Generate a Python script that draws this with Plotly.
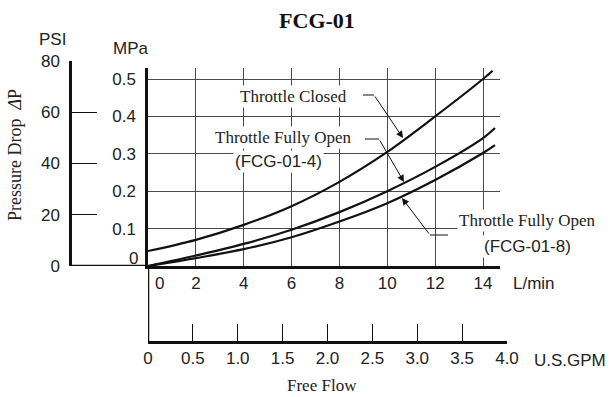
import plotly.graph_objects as go

# flow (L/min) and pressure drop (MPa)
flow_closed = [0, 2, 4, 6, 8, 10, 12, 14, 14.4]
dp_closed = [0.040, 0.070, 0.110, 0.160, 0.225, 0.305, 0.400, 0.500, 0.522]

flow_open = [0, 2, 4, 6, 8, 10, 12, 14, 14.5]
dp_open_4 = [0, 0.028, 0.059, 0.097, 0.144, 0.200, 0.265, 0.342, 0.369]
dp_open_8 = [0, 0.021, 0.045, 0.077, 0.119, 0.168, 0.230, 0.302, 0.323]

lpm_ticks = [0, 2, 4, 6, 8, 10, 12, 14]
mpa_ticks = [0.1, 0.2, 0.3, 0.4, 0.5]
psi_ticks = [0, 20, 40, 60, 80]
gpm_ticks = [0, 0.5, 1.0, 1.5, 2.0, 2.5, 3.0, 3.5, 4.0]
gpm_labels = ["0", "0.5", "1.0", "1.5", "2.0", "2.5", "3.0", "3.5", "4.0"]

W, H = 616, 397
ML, MR, MT, MB = 70, 109, 61, 55
PW, PH = W - ML - MR, H - MT - MB
PX_PER_LPM = 23.93
PX_PER_MPA = 374.0

SANS = "Liberation Sans, Arial, Helvetica, sans-serif"
SERIF = "Liberation Serif, Times New Roman, serif"


def fx(p):
    return (p - ML) / PW


def fy(p):
    return (H - MB - p) / PH


def lpm(p):
    return (p - 148) / PX_PER_LPM


def mpa(p):
    return (266 - p) / PX_PER_MPA


fig = go.Figure()

line_style = dict(color="#111111", width=2.2, shape="spline", smoothing=1.0)
fig.add_trace(go.Scatter(x=flow_closed, y=dp_closed, mode="lines", line=line_style,
                         name="Throttle Closed"))
fig.add_trace(go.Scatter(x=flow_open, y=dp_open_4, mode="lines", line=line_style,
                         name="Throttle Fully Open (FCG-01-4)"))
fig.add_trace(go.Scatter(x=flow_open, y=dp_open_8, mode="lines", line=line_style,
                         name="Throttle Fully Open (FCG-01-8)"))
# keeps the PSI / GPM axes alive
fig.add_trace(go.Scatter(x=[], y=[], xaxis="x2", yaxis="y2", showlegend=False))

tickfont = dict(family=SANS, size=17, color="#222222")
grid = dict(showgrid=True, gridcolor="#4a4a4a", gridwidth=1.3)
axline = dict(showline=True, linecolor="#111111", linewidth=2.5, zeroline=False,
              automargin=False)

fig.update_layout(
    width=W, height=H,
    margin=dict(l=ML, r=MR, t=MT, b=MB),
    paper_bgcolor="white", plot_bgcolor="rgba(0,0,0,0)",
    showlegend=False,
    title=dict(text="<b>FCG-01</b>", x=317 / W, xanchor="center", y=1 - 20 / H,
               yanchor="middle", font=dict(family=SERIF, size=22, color="#111111")),
    xaxis=dict(
        domain=[fx(148), fx(500)], range=[0, lpm(500)], anchor="y",
        tickvals=lpm_ticks, ticktext=[""] + [str(v) for v in lpm_ticks[1:]],
        ticks="", tickfont=tickfont, **grid, **axline,
    ),
    yaxis=dict(
        domain=[fy(266), fy(68)], range=[0, mpa(68)], anchor="x",
        tickvals=mpa_ticks, ticktext=[f"{v:.1f}" for v in mpa_ticks],
        ticks="", ticklabelstandoff=6, tickfont=tickfont, **grid, **axline,
    ),
    yaxis2=dict(
        domain=[fy(266), fy(61)], range=[0, 80], anchor="free", position=0,
        side="left", tickvals=psi_ticks, showgrid=False,
        ticks="inside", ticklen=25, tickwidth=1.2, tickcolor="#111111",
        ticklabelstandoff=6, tickfont=tickfont, **axline,
    ),
    xaxis2=dict(
        domain=[fx(148), fx(507)], range=[0, 4], anchor="free", position=0,
        side="bottom", tickvals=gpm_ticks, ticktext=gpm_labels, showgrid=False,
        ticks="inside", ticklen=17, tickwidth=1.2, tickcolor="#111111",
        tickfont=tickfont, **axline,
    ),
)

# axis line extensions
fig.add_shape(type="line", xref="paper", yref="y", x0=0, x1=fx(148), y0=0, y1=0,
              line=dict(color="#111111", width=2.5))
fig.add_shape(type="line", xref="x", yref="paper", x0=0, x1=0, y0=0, y1=fy(266),
              line=dict(color="#111111", width=2.5))


def label(text, px, py, font, anchor="center", **kw):
    fig.add_annotation(text=text, xref="paper", yref="paper", x=fx(px), y=fy(py),
                       xanchor=anchor, yanchor="middle", showarrow=False,
                       font=font, **kw)


sans = dict(family=SANS, size=17, color="#222222")
serif = dict(family=SERIF, size=17, color="#222222")

label("PSI", 52, 39, sans)
label("MPa", 131, 48, sans)
label("0", 140, 258, sans, anchor="right")
label("0", 159, 283, sans)
label("L/min", 511, 283, sans, anchor="left")
label("U.S.GPM", 532, 360, sans, anchor="left")
label("Free Flow", 322, 385, serif)
label("Pressure Drop  <i>Δ</i>P", 15, 155,
      dict(family=SERIF, size=18, color="#222222"), textangle=-90)

# curve labels
label("Throttle Closed", 293, 96, serif, bgcolor="white", borderpad=1)
label("Throttle Fully Open", 283, 137, serif, bgcolor="white", borderpad=1)
label("(FCG-01-4)", 278, 161, sans, bgcolor="white", borderpad=1)
label("Throttle Fully Open", 527, 220, serif, bgcolor="white", borderpad=1)
label("(FCG-01-8)", 527, 246, sans, bgcolor="white", borderpad=1)

# leader lines: short horizontal run, then an arrow onto the curve
leaders = [
    ((363, 95), (374, 95), (403, 138)),
    ((365, 139), (379, 139), (404, 182)),
    ((448, 235), (430, 235), (402, 198)),
]
for start, elbow, tip in leaders:
    fig.add_shape(type="line", xref="x", yref="y",
                  x0=lpm(start[0]), y0=mpa(start[1]), x1=lpm(elbow[0]), y1=mpa(elbow[1]),
                  line=dict(color="#111111", width=1))
    fig.add_annotation(x=lpm(tip[0]), y=mpa(tip[1]), ax=lpm(elbow[0]), ay=mpa(elbow[1]),
                       xref="x", yref="y", axref="x", ayref="y", text="",
                       showarrow=True, arrowhead=2, arrowsize=1.4, arrowwidth=1,
                       arrowcolor="#111111")

# the page's default body margin would push the fixed-size figure off by 8px
fig.write_html("out.html", config={"displayModeBar": False},
               post_script="document.body.style.margin = '0';")
